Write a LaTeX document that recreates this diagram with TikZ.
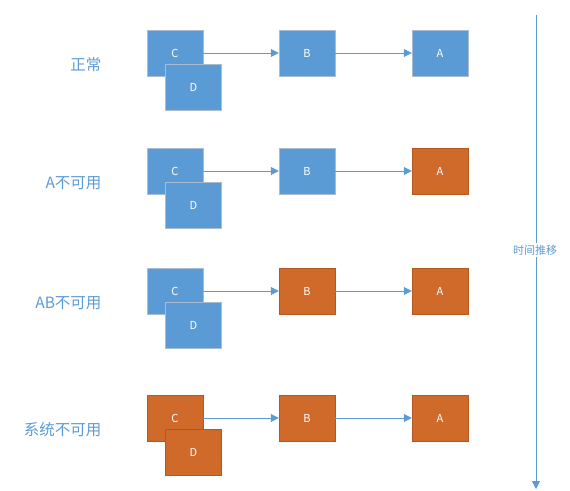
\documentclass[tikz,border=0pt]{standalone}
\usepackage{fontspec}
\setmainfont{Noto Sans CJK SC}
\usetikzlibrary{arrows.meta,positioning,calc}
\definecolor{okblue}{HTML}{5B9BD5}
\definecolor{okline}{HTML}{A9BCD0}
\definecolor{downorange}{HTML}{D06A2B}
\definecolor{downline}{HTML}{B4581F}
\definecolor{labblue}{HTML}{5B9BD5}

\begin{document}
\begin{tikzpicture}[x=1pt,y=-1pt,>={Triangle[length=8pt,width=8pt]},
    box/.style={draw=okline,fill=okblue,text=white,minimum width=56pt,minimum height=46pt,inner sep=0pt,font=\fontsize{11}{13}\selectfont},
    down/.style={draw=downline,fill=downorange},
    lab/.style={text=labblue,anchor=east,font=\fontsize{15.5}{18}\selectfont},
    link/.style={->,okblue,line width=0.8pt}]
    \useasboundingbox (0,0) rectangle (570,490);
    % rows, top to bottom
    \foreach \i/\y/\txt/\cs/\bs/\as in {1/53/正常/box/box/box, 2/171/A不可用/box/box/down, 3/291/AB不可用/box/down/down, 4/418/系统不可用/down/down/down} {
      \node[lab] (l\i) at (105,\y+12) {\txt};
      \node[box,\cs] (c\i) at (175,\y) {C};
      \node[box,\cs] (d\i) at (193.5,\y+34.5) {D};
      \node[box,\bs] (b\i) at (307,\y) {B};
      \node[box,\as] (a\i) at (440,\y) {A};
      \draw[link] (c\i.east)--(b\i.west);
      \draw[link] (b\i.east)--(a\i.west);
    }
    % time axis
    \coordinate (t0) at (536,15);
    \coordinate (t1) at (536,489);
    \draw[link] (t0)--(t1);
    \node[fill=white,text=labblue,inner sep=2pt,font=\fontsize{11}{13}\selectfont] (tl) at (535,250) {时间推移};
\end{tikzpicture}
\end{document}
